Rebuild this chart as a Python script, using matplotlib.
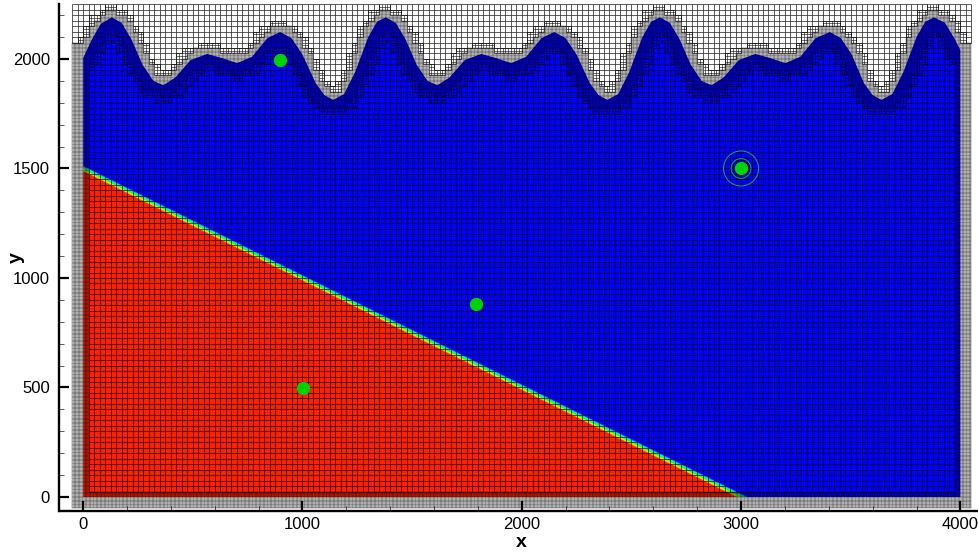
import numpy as np
import matplotlib
matplotlib.use('Agg')
import matplotlib.pyplot as plt
from matplotlib.collections import LineCollection
from matplotlib.colors import LinearSegmentedColormap
from matplotlib.patches import Polygon, Circle

plt.rcParams['font.family'] = ['Liberation Sans', 'DejaVu Sans']

# free surface
surface_x = [0, 40, 80, 130, 175, 220, 270, 320, 365, 420, 490, 565, 630, 702, 770, 840, 898, 950, 1000,
             1060, 1100, 1140, 1190, 1240, 1300, 1340, 1380, 1425, 1470, 1520, 1570, 1615, 1670, 1740, 1815,
             1880, 1952, 2020, 2090, 2148, 2200, 2250, 2310, 2350, 2390, 2440, 2490, 2550, 2590, 2630, 2675,
             2720, 2770, 2820, 2865, 2920, 2990, 3065, 3130, 3202, 3270, 3340, 3405, 3455, 3505, 3560, 3600,
             3640, 3690, 3740, 3800, 3840, 3880, 3930, 3975, 4000]
surface_y = [2005, 2090, 2160, 2190, 2165, 2090, 1975, 1900, 1880, 1915, 1995, 2023, 2005, 1981, 2010, 2095, 2123, 2095, 2020,
             1890, 1835, 1813, 1840, 1940, 2100, 2170, 2190, 2165, 2090, 1975, 1900, 1880, 1915, 1995, 2023,
             2005, 1981, 2010, 2095, 2123, 2095, 2020, 1890, 1835, 1813, 1840, 1940, 2100, 2170, 2190, 2165,
             2090, 1975, 1900, 1880, 1915, 1995, 2023, 2005, 1981, 2010, 2095, 2123, 2095, 2020, 1890, 1835,
             1813, 1840, 1940, 2100, 2170, 2190, 2165, 2090, 2040]

# interface between the two fluids
interface_x = [0, 3000]
interface_y = [1500, 0]

# green points
points_x = [898, 1792, 1003, 3000]
points_y = [1995, 881, 498, 1500]

ring_x = 3000
ring_y = 1500
ring_radius = [45, 80]

x_ticks = [0, 1000, 2000, 3000, 4000]
y_ticks = [0, 500, 1000, 1500, 2000]


def dist_to_line(px, py, xs, ys):
    xs = np.asarray(xs, dtype=float)
    ys = np.asarray(ys, dtype=float)
    ax_, ay_ = xs[:-1], ys[:-1]
    dx, dy = np.diff(xs), np.diff(ys)
    px = px[:, None]
    py = py[:, None]
    t = ((px - ax_) * dx + (py - ay_) * dy) / (dx * dx + dy * dy)
    t = np.clip(t, 0, 1)
    d = np.hypot(px - ax_ - t * dx, py - ay_ - t * dy)
    return d.min(axis=1)


fig = plt.figure(figsize=(9.79, 5.54), dpi=100)
ax = fig.add_axes([59.5 / 979, 43 / 554, 919.5 / 979, 507 / 554])

# colour field, clipped to the water body
cmap = LinearSegmentedColormap.from_list('vof', ['#0000ff', '#00ffff', '#00ff00', '#ffff00', '#ff2000'])
gx = np.linspace(0, 4000, 1601)
gy = np.linspace(0, 2300, 921)
xx, yy = np.meshgrid(gx, gy)
nx = interface_y[0] - interface_y[1]
ny = interface_x[1] - interface_x[0]
side = ((xx - interface_x[0]) * nx + (yy - interface_y[0]) * ny) / np.hypot(nx, ny)
field = np.clip(0.5 - side / 26, 0, 1)
body = Polygon(list(zip(surface_x, surface_y)) + [(4000, 0), (0, 0)], closed=True, transform=ax.transData)
img = ax.imshow(field, extent=[0, 4000, 0, 2300], origin='lower', cmap=cmap, vmin=0, vmax=1,
                aspect='auto', interpolation='bilinear', zorder=1)
img.set_clip_path(body)
ax.set_xlim(-108, 4085)
ax.set_ylim(-64, 2251)

# adaptive mesh
base = 25.0
cx = np.arange(-50, 4050, base) + base / 2
cy = np.arange(-50, 2250, base) + base / 2
ccx, ccy = np.meshgrid(cx, cy)
ccx = ccx.ravel()
ccy = ccy.ravel()
d_surf = dist_to_line(ccx, ccy, surface_x, surface_y)
inside = ccy < np.interp(ccx, surface_x, surface_y)
wall = ((ccx < 25) | (ccx > 3975) | (ccy < 25)) & (ccy < 2080)
d_ring = np.hypot(ccx - ring_x, ccy - ring_y)

level = np.zeros(len(ccx), dtype=int)
level[(~inside) & (d_surf < 52)] = 1
level[inside & (d_surf < 75)] = 1
level[d_ring < 50] = 1
level[(~inside) & (d_surf < 32)] = 2
level[inside & (d_surf < 50)] = 2
level[wall] = 2

segs = [set(), set(), set()]
for x0, y0, lev in zip(ccx - base / 2, ccy - base / 2, level):
    h = base / 2 ** lev
    n = 2 ** lev
    for i in range(n + 1):
        xl = x0 + i * h
        yl = y0 + i * h
        segs[lev].add((xl, y0, xl, y0 + base))
        segs[lev].add((x0, yl, x0 + base, yl))

widths = [0.45, 0.4, 0.24]
for lev in range(3):
    lines = [((s[0], s[1]), (s[2], s[3])) for s in segs[lev]]
    ax.add_collection(LineCollection(lines, colors='black', linewidths=widths[lev], zorder=2), autolim=False)

# points and rings
for r in ring_radius:
    ax.add_patch(Circle((ring_x, ring_y), r, fill=False, edgecolor='#10a040', linewidth=0.8, zorder=3))
ax.scatter(points_x, points_y, s=92, color='#00d200', linewidths=0, zorder=4)

for name in ['top', 'right']:
    ax.spines[name].set_visible(False)
for name in ['left', 'bottom']:
    ax.spines[name].set_linewidth(1.7)
    ax.spines[name].set_zorder(6)

ax.set_xticks(x_ticks)
ax.set_yticks(y_ticks)
ax.set_xticks(np.arange(0, 4001, 200), minor=True)
ax.set_yticks(np.arange(0, 2201, 100), minor=True)
ax.tick_params(which='major', direction='in', length=7.5, width=1.6, labelsize=12)
ax.tick_params(which='minor', direction='in', length=3.6, width=0.7, color='#555555')
ax.tick_params(axis='x', which='major', pad=4.5)
ax.tick_params(axis='y', which='major', pad=7)

ax.set_xlabel('x', fontsize=14, fontweight='bold')
ax.set_ylabel('y', fontsize=14, fontweight='bold')
ax.xaxis.set_label_coords((521 - 59.5) / 919.5, -0.046)
ax.yaxis.set_label_coords(-0.038, 0.5)

fig.savefig('out.png', dpi=100)
